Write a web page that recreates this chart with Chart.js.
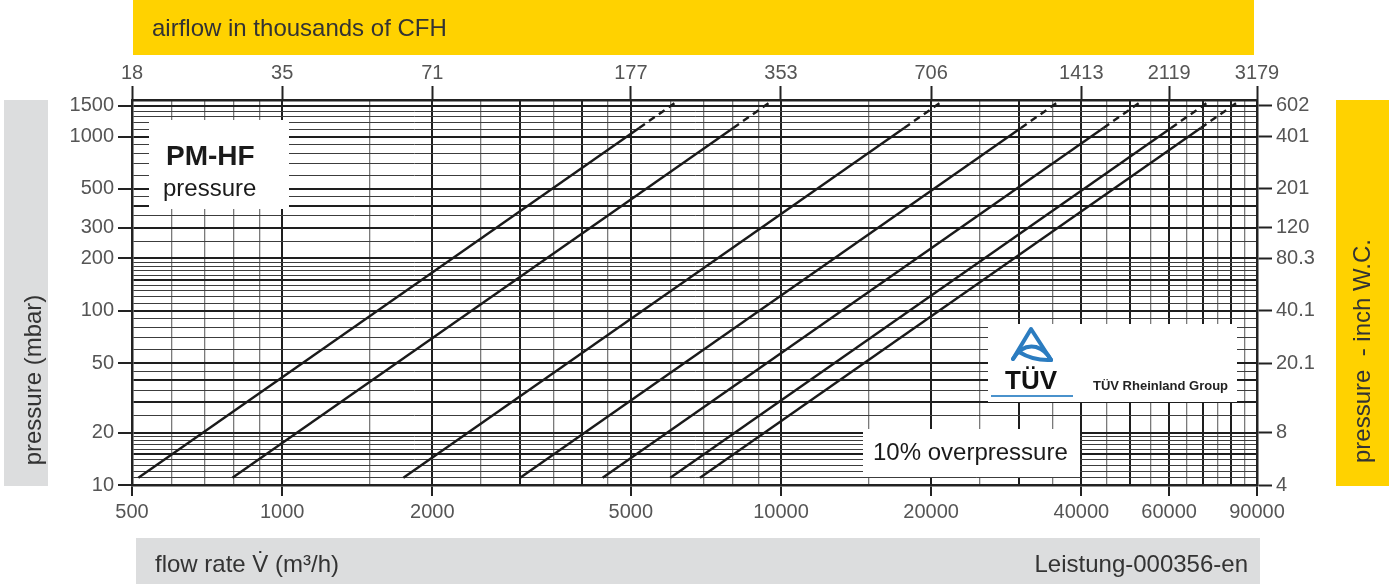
<!DOCTYPE html>
<html>
<head>
<meta charset="utf-8">
<title>PM-HF pressure</title>
<script src="https://cdn.jsdelivr.net/npm/chart.js@4/dist/chart.umd.min.js"></script>
<style>
  html, body { margin: 0; padding: 0; background: #fff; }
  #wrap { position: relative; width: 1389px; height: 584px; }
  canvas { display: block; }
</style>
</head>
<body>
<div id="wrap"><canvas id="chart" width="1389" height="584"></canvas></div>
<script>
// Labelled flow rates (m³/h) and the same positions in thousands of CFH
const flowTicks = [500, 1000, 2000, 5000, 10000, 20000, 40000, 60000, 90000];
const cfhLabels = ['18', '35', '71', '177', '353', '706', '1413', '2119', '3179'];

// Labelled pressures (mbar) and the same positions in inch W.C.
const pressureTicks = [10, 20, 50, 100, 200, 300, 500, 1000, 1500];
const inchLabels = ['4', '8', '20.1', '40.1', '80.3', '120', '201', '401', '602'];

// Vertical grid lines (m³/h) and the heavier ones among them
const flowGrid = [500, 600, 700, 800, 900, 1000, 1500, 2000, 2500, 3000, 3500, 4000, 4500,
  5000, 6000, 7000, 8000, 9000, 10000, 15000, 20000, 25000, 30000, 35000, 40000, 45000,
  50000, 55000, 60000, 65000, 70000, 75000, 80000, 85000, 90000];
const flowMajor = [500, 1000, 2000, 3000, 4000, 5000, 10000, 20000, 30000, 40000, 50000,
  60000, 70000, 80000, 90000];

// Horizontal grid lines (mbar) and the heavier ones among them
const pressureGrid = [10, 11, 12, 13, 14, 15, 16, 17, 18, 19, 20, 25, 30, 35, 40, 45, 50,
  60, 70, 80, 90, 100, 110, 120, 130, 140, 150, 160, 170, 180, 190, 200, 250, 300, 350,
  400, 450, 500, 600, 700, 800, 900, 1000, 1100, 1200, 1300, 1400, 1500];
const pressureMajor = [10, 15, 20, 30, 40, 50, 100, 150, 200, 300, 400, 500, 1000, 1500];

// Characteristic curves: pressure at start, end of the solid part, end of the dashed part
const curvePressure = [11, 1120, 1610];
// Flow rate (m³/h) of each curve at those three pressures
const curveA = [515, 5196, 6230];
const curveB = [795, 8021, 9618];
const curveC = [1750, 17658, 21171];
const curveD = [3000, 30270, 36294];
const curveE = [4390, 44295, 53110];
const curveF = [6000, 60540, 72588];
const curveG = [6880, 69419, 83234];

const YELLOW = '#FFD200';
const GREY = '#DCDDDE';
const FONT = '"Liberation Sans", Arial, Helvetica, sans-serif';
const TICK_COLOR = '#555';

const curves = [curveA, curveB, curveC, curveD, curveE, curveF, curveG];
const datasets = curves.map((flows) => ({
  data: flows.map((q, i) => ({ x: q, y: curvePressure[i] })),
  borderColor: '#1a1a1a',
  borderWidth: 2.4,
  pointRadius: 0,
  fill: false,
  tension: 0,
  segment: {
    borderDash: (c) => (c.p0DataIndex === 1 ? [7, 5] : undefined)
  }
}));

const tickOf = (c) => (c && c.tick ? c.tick.value : null);

// Decorations: coloured bands, axis captions, white label boxes, logo
const frame = {
  id: 'frame',
  beforeDraw(chart) {
    const ctx = chart.ctx;
    ctx.save();
    ctx.fillStyle = '#fff';
    ctx.fillRect(0, 0, chart.width, chart.height);

    ctx.fillStyle = YELLOW;
    ctx.fillRect(133, 0, 1121, 55);
    ctx.fillRect(1336, 100, 53, 386);
    ctx.fillStyle = GREY;
    ctx.fillRect(4, 100, 44, 386);
    ctx.fillRect(136, 538, 1124, 46);

    ctx.fillStyle = '#333';
    ctx.font = '24px ' + FONT;
    ctx.textBaseline = 'middle';
    ctx.textAlign = 'left';
    ctx.fillText('airflow in thousands of CFH', 152, 29);
    ctx.fillText('flow rate V\u0307 (m³/h)', 155, 565);
    ctx.textAlign = 'right';
    ctx.fillText('Leistung-000356-en', 1248, 565);

    ctx.save();
    ctx.translate(34, 380);
    ctx.rotate(-Math.PI / 2);
    ctx.textAlign = 'center';
    ctx.fillText('pressure (mbar)', 0, 0);
    ctx.restore();

    ctx.save();
    ctx.translate(1363, 351);
    ctx.rotate(-Math.PI / 2);
    ctx.textAlign = 'center';
    ctx.fillText('pressure  - inch W.C.', 0, 0);
    ctx.restore();
    ctx.restore();
  },
  beforeDatasetsDraw(chart) {
    const ctx = chart.ctx;
    ctx.save();
    ctx.fillStyle = '#fff';
    ctx.fillRect(149, 120, 140, 89);
    ctx.fillRect(988, 324, 249, 78);
    ctx.fillRect(863, 429, 217, 48);

    ctx.fillStyle = '#1a1a1a';
    ctx.textBaseline = 'middle';
    ctx.textAlign = 'left';
    ctx.font = 'bold 28px ' + FONT;
    ctx.fillText('PM-HF', 166, 157);
    ctx.font = '24px ' + FONT;
    ctx.fillText('pressure', 163, 189);
    ctx.fillText('10% overpressure', 873, 453);

    // TÜV mark
    ctx.strokeStyle = '#2B7CC0';
    ctx.lineWidth = 4;
    ctx.lineJoin = 'round';
    ctx.lineCap = 'round';
    ctx.beginPath();
    ctx.moveTo(1013, 359);
    ctx.lineTo(1031, 329);
    ctx.lineTo(1051, 360);
    ctx.stroke();
    ctx.beginPath();
    ctx.moveTo(1013, 359);
    ctx.quadraticCurveTo(1022, 344, 1036, 347);
    ctx.quadraticCurveTo(1046, 350, 1051, 360);
    ctx.stroke();
    ctx.beginPath();
    ctx.moveTo(1019, 352);
    ctx.quadraticCurveTo(1034, 361, 1051, 360);
    ctx.stroke();

    ctx.fillStyle = '#111';
    ctx.font = 'bold 26px ' + FONT;
    ctx.textAlign = 'center';
    ctx.fillText('TÜV', 1031, 382);
    ctx.fillStyle = '#4A92CC';
    ctx.fillRect(991, 395, 82, 2);
    ctx.fillStyle = '#222';
    ctx.font = 'bold 13px ' + FONT;
    ctx.textAlign = 'left';
    ctx.fillText('TÜV Rheinland Group', 1093, 386);
    ctx.restore();
  }
};

const baseTicks = {
  autoSkip: false,
  maxRotation: 0,
  minRotation: 0,
  color: TICK_COLOR,
  font: { family: FONT, size: 20 },
  padding: 4
};

new Chart(document.getElementById('chart'), {
  type: 'line',
  data: { datasets },
  plugins: [frame],
  options: {
    responsive: false,
    animation: false,
    events: [],
    layout: { padding: 0 },
    plugins: { legend: { display: false }, tooltip: { enabled: false } },
    scales: {
      x: {
        type: 'logarithmic',
        position: 'bottom',
        min: 500,
        max: 90000,
        afterBuildTicks: (s) => { s.ticks = flowGrid.map((v) => ({ value: v })); },
        afterFit: (s) => { s.height = 99; },
        ticks: Object.assign({}, baseTicks, {
          callback: (v) => (flowTicks.includes(v) ? String(v) : '')
        }),
        grid: {
          color: (c) => (flowMajor.includes(tickOf(c)) ? '#1e1e1e' : '#7a7a7a'),
          lineWidth: (c) => (flowMajor.includes(tickOf(c)) ? 2 : 1.3),
          tickColor: (c) => (flowTicks.includes(tickOf(c)) ? '#222' : 'rgba(0,0,0,0)'),
          tickWidth: 2,
          tickLength: 11
        },
        border: { display: true, color: '#222', width: 2.5 }
      },
      x2: {
        type: 'logarithmic',
        position: 'top',
        min: 500,
        max: 90000,
        afterBuildTicks: (s) => { s.ticks = flowTicks.map((v) => ({ value: v })); },
        afterFit: (s) => { s.height = 100; },
        ticks: Object.assign({}, baseTicks, {
          padding: 1,
          callback: (v) => cfhLabels[flowTicks.indexOf(v)]
        }),
        grid: {
          drawOnChartArea: false,
          tickColor: '#222',
          tickWidth: 2,
          tickLength: 14
        },
        border: { display: true, color: '#222', width: 2.5 }
      },
      y: {
        type: 'logarithmic',
        position: 'left',
        min: 10,
        max: 1620,
        afterBuildTicks: (s) => { s.ticks = pressureGrid.map((v) => ({ value: v })); },
        afterFit: (s) => { s.width = 132; },
        ticks: Object.assign({}, baseTicks, {
          callback: (v) => (pressureTicks.includes(v) ? String(v) : '')
        }),
        grid: {
          color: (c) => (pressureMajor.includes(tickOf(c)) ? '#1e1e1e' : '#3c3c3c'),
          lineWidth: (c) => (pressureMajor.includes(tickOf(c)) ? 2 : 1),
          tickColor: (c) => (pressureTicks.includes(tickOf(c)) ? '#222' : 'rgba(0,0,0,0)'),
          tickWidth: 2,
          tickLength: 14
        },
        border: { display: true, color: '#222', width: 2.5 }
      },
      y2: {
        type: 'logarithmic',
        position: 'right',
        min: 10,
        max: 1620,
        afterBuildTicks: (s) => { s.ticks = pressureTicks.map((v) => ({ value: v })); },
        afterFit: (s) => { s.width = 132; },
        ticks: Object.assign({}, baseTicks, {
          callback: (v) => inchLabels[pressureTicks.indexOf(v)]
        }),
        grid: {
          drawOnChartArea: false,
          tickColor: '#222',
          tickWidth: 2,
          tickLength: 15
        },
        border: { display: true, color: '#222', width: 2.5 }
      }
    }
  }
});
</script>
</body>
</html>
